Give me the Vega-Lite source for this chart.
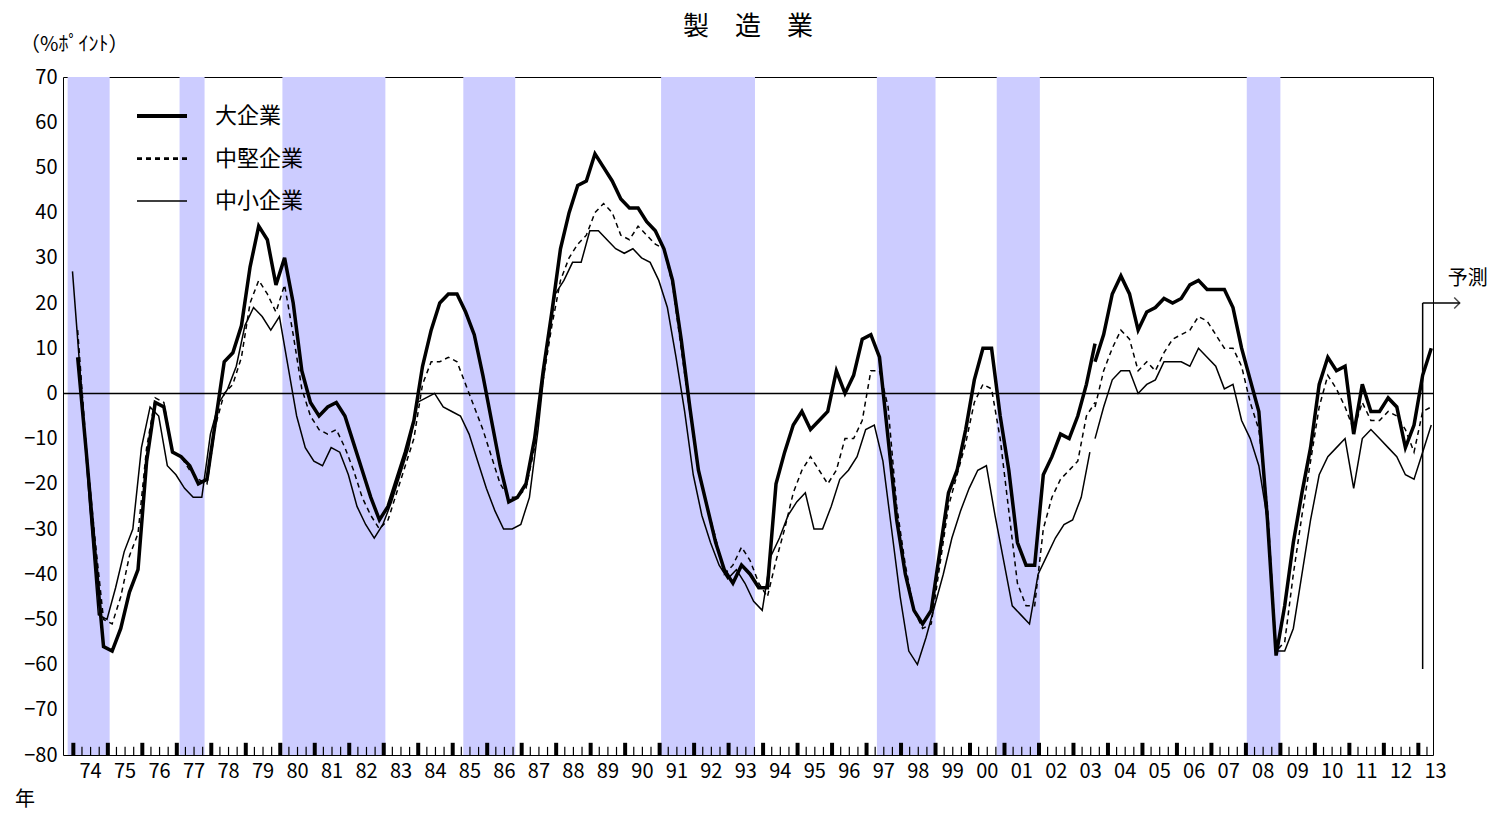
{
"$schema":"https://vega.github.io/schema/vega-lite/v6.json",
"width":1370,"height":678,
"autosize":{"type":"none"},
"padding":{"left":63,"top":77,"right":62,"bottom":60},
"config":{"font":"Noto Sans CJK JP","view":{"stroke":"black","strokeWidth":1},"axis":{"grid":false}},
"datasets":{
"bands":[{"a":-1.16,"b":3.71},{"a":11.82,"b":14.72},{"a":23.75,"b":35.69},{"a":44.73,"b":50.75},{"a":67.67,"b":78.56},{"a":92.7,"b":99.5},{"a":106.6,"b":111.6},{"a":135.6,"b":139.5}],
"big":[8,-13,-35,-56,-57,-52,-44,-39,-15,-2,-3,-13,-14,-16,-20,-19,-6,7,9,15,28,37,34,24,30,20,5,-2,-5,-3,-2,-5,-11,-17,-23,-28,-25,-19,-13,-6,6,14,20,22,22,18,13,4,-6,-16,-24,-23,-20,-10,5,18,32,40,46,47,53,50,47,43,41,41,38,36,32,25,12,-3,-17,-25,-33,-39,-42,-38,-40,-43,-43,-20,-13,-7,-4,-8,-6,-4,5,0,4,12,13,8,-10,-28,-40,-48,-51,-48,-35,-22,-17,-8,3,10,10,-5,-17,-33,-38,-38,-18,-14,-9,-10,-5,2,11],
"big2":[7,13,22,26,22,14,18,19,21,20,21,24,25,23,23,23,19,10,3,-4,-28,-58,-47,-33,-22,-12,2,8,5,6,-9,2,-4,-4,-1,-3,-12,-7,4,10],
"mid":[14,-12,-32,-50,-51,-45,-36,-31,-12,-1,-2,-13,-14,-17,-19,-20,-7,0,2,8,20,25,22,18,24,13,1,-5,-8,-9,-8,-12,-17,-23,-27,-30,-28,-22,-16,-10,2,7,7,8,7,2,-3,-8,-14,-20,-23,-23,-21,-12,3,15,25,30,33,35,40,42,40,35,34,37,35,33,32,24,10,-4,-17,-25,-32,-40,-38,-34,-37,-42,-45,-37,-30,-22,-17,-14,-17,-20,-17,-10,-10,-6,5,5,-3,-25,-38,-48,-52,-51,-38,-25,-18,-11,-2,2,1,-10,-26,-42,-47,-47,-30,-23,-19,-17,-15,-5,-2],
"mid2":[-3,5,10,14,12,5,7,5,9,12,13,14,17,16,13,10,10,6,-2,-8,-25,-57,-55,-40,-27,-15,-3,4,1,-3,-8,-2,-6,-6,-4,-5,-8,-13,-4,-3],
"sml":[27,2,-25,-49,-50,-43,-35,-30,-12,-3,-5,-16,-18,-21,-23,-23,-9,-2,1,6,15,19,17,14,17,6,-5,-12,-15,-16,-12,-13,-18,-25,-29,-32,-29,-24,-18,-12,-2,-1,0,-3,-4,-5,-9,-15,-21,-26,-30,-30,-29,-23,-8,10,22,25,29,29,36,36,34,32,31,32,30,29,25,19,8,-4,-18,-27,-33,-38,-41,-39,-42,-46,-48,-36,-32,-27,-24,-22,-30,-30,-25,-19,-17,-14,-8,-7,-15,-30,-45,-57,-60,-54,-47,-40,-32,-26,-21,-17,-16,-27,-37,-47,-49,-51,-40,-36,-32,-29,-28,-23,-13],
"sml2":[-10,-3,3,5,5,0,2,3,7,7,7,6,10,8,6,1,2,-6,-10,-16,-28,-57,-57,-52,-40,-28,-18,-14,-12,-10,-21,-10,-8,-10,-12,-14,-18,-19,-13,-7],
"maj":[-0.5,3.5,7.5,11.5,15.5,19.5,23.5,27.5,31.5,35.5,39.5,43.5,47.5,51.5,55.5,59.5,63.5,67.5,71.5,75.5,79.5,83.5,87.5,91.5,95.5,99.5,103.5,107.5,111.5,115.5,119.5,123.5,127.5,131.5,135.5,139.5,143.5,147.5,151.5,155.5],
"mnr":[0.5,1.5,2.5,4.5,5.5,6.5,8.5,9.5,10.5,12.5,13.5,14.5,16.5,17.5,18.5,20.5,21.5,22.5,24.5,25.5,26.5,28.5,29.5,30.5,32.5,33.5,34.5,36.5,37.5,38.5,40.5,41.5,42.5,44.5,45.5,46.5,48.5,49.5,50.5,52.5,53.5,54.5,56.5,57.5,58.5,60.5,61.5,62.5,64.5,65.5,66.5,68.5,69.5,70.5,72.5,73.5,74.5,76.5,77.5,78.5,80.5,81.5,82.5,84.5,85.5,86.5,88.5,89.5,90.5,92.5,93.5,94.5,96.5,97.5,98.5,100.5,101.5,102.5,104.5,105.5,106.5,108.5,109.5,110.5,112.5,113.5,114.5,116.5,117.5,118.5,120.5,121.5,122.5,124.5,125.5,126.5,128.5,129.5,130.5,132.5,133.5,134.5,136.5,137.5,138.5,140.5,141.5,142.5,144.5,145.5,146.5,148.5,149.5,150.5,152.5,153.5,154.5,156.5],
"yrs":[{"k":1.5,"t":"74"},{"k":5.5,"t":"75"},{"k":9.5,"t":"76"},{"k":13.5,"t":"77"},{"k":17.5,"t":"78"},{"k":21.5,"t":"79"},{"k":25.5,"t":"80"},{"k":29.5,"t":"81"},{"k":33.5,"t":"82"},{"k":37.5,"t":"83"},{"k":41.5,"t":"84"},{"k":45.5,"t":"85"},{"k":49.5,"t":"86"},{"k":53.5,"t":"87"},{"k":57.5,"t":"88"},{"k":61.5,"t":"89"},{"k":65.5,"t":"90"},{"k":69.5,"t":"91"},{"k":73.5,"t":"92"},{"k":77.5,"t":"93"},{"k":81.5,"t":"94"},{"k":85.5,"t":"95"},{"k":89.5,"t":"96"},{"k":93.5,"t":"97"},{"k":97.5,"t":"98"},{"k":101.5,"t":"99"},{"k":105.5,"t":"00"},{"k":109.5,"t":"01"},{"k":113.5,"t":"02"},{"k":117.5,"t":"03"},{"k":121.5,"t":"04"},{"k":125.5,"t":"05"},{"k":129.5,"t":"06"},{"k":133.5,"t":"07"},{"k":137.5,"t":"08"},{"k":141.5,"t":"09"},{"k":145.5,"t":"10"},{"k":149.5,"t":"11"},{"k":153.5,"t":"12"},{"k":157.5,"t":"13"}],
"fc":[{"k":156,"v1":-61,"v2":20,"k2":160.3,"t":"予測"}],
"notes":[{"k":-1.7,"v":70,"t":"（%ﾎﾟｲﾝﾄ）","w":-80,"t2":"年","c":77.75,"t3":"製　造　業"}]
},
"layer":[
{"data":{"name":"bands"},"mark":{"type":"rect","color":"#ccccff"},
 "encoding":{"x":{"field":"a","type":"quantitative","scale":{"domain":[-1.7,157.2],"nice":false,"zero":false},"axis":null},
  "x2":{"field":"b"},
  "y":{"datum":-80,"type":"quantitative","scale":{"domain":[-80,70],"nice":false},
   "axis":{"values":[-80,-70,-60,-50,-40,-30,-20,-10,0,10,20,30,40,50,60,70],"ticks":false,"domain":false,"labelFontSize":20,"labelColor":"black","labelPadding":6,"title":null}},
  "y2":{"datum":70}}},
{"data":{"name":"maj"},"mark":{"type":"rule","color":"black","strokeWidth":4},"encoding":{"x":{"field":"data","type":"quantitative","axis":null},"y":{"datum":-80,"type":"quantitative"},"y2":{"datum":-77.3}}},
{"data":{"name":"mnr"},"mark":{"type":"rule","color":"black","strokeWidth":1.2},"encoding":{"x":{"field":"data","type":"quantitative","axis":null},"y":{"datum":-80,"type":"quantitative"},"y2":{"datum":-78.2}}},
{"data":{"name":"yrs"},"mark":{"type":"text","fontSize":20,"baseline":"middle","dy":17},"encoding":{"x":{"field":"k","type":"quantitative","axis":null},"y":{"datum":-80,"type":"quantitative"},"text":{"field":"t"}}},
{"data":{"values":[{"z":0}]},"mark":{"type":"rule","color":"black","strokeWidth":1.5},"encoding":{"y":{"field":"z","type":"quantitative"}}},
{"data":{"name":"big"},"transform":[{"window":[{"op":"row_number","as":"n"}]},{"calculate":"datum.n-1","as":"k"}],
 "mark":{"type":"line","color":"black","strokeWidth":3.5},"encoding":{"x":{"field":"k","type":"quantitative","axis":null},"y":{"field":"data","type":"quantitative"}}},
{"data":{"name":"big2"},"transform":[{"window":[{"op":"row_number","as":"n"}]},{"calculate":"datum.n+117","as":"k"}],
 "mark":{"type":"line","color":"black","strokeWidth":3.5},"encoding":{"x":{"field":"k","type":"quantitative","axis":null},"y":{"field":"data","type":"quantitative"}}},
{"data":{"name":"mid"},"transform":[{"window":[{"op":"row_number","as":"n"}]},{"calculate":"datum.n-1","as":"k"}],
 "mark":{"type":"line","color":"black","strokeWidth":1.5,"strokeDash":[5,4]},"encoding":{"x":{"field":"k","type":"quantitative","axis":null},"y":{"field":"data","type":"quantitative"}}},
{"data":{"name":"mid2"},"transform":[{"window":[{"op":"row_number","as":"n"}]},{"calculate":"datum.n+117","as":"k"}],
 "mark":{"type":"line","color":"black","strokeWidth":1.5,"strokeDash":[5,4]},"encoding":{"x":{"field":"k","type":"quantitative","axis":null},"y":{"field":"data","type":"quantitative"}}},
{"data":{"name":"sml"},"transform":[{"window":[{"op":"row_number","as":"n"}]},{"calculate":"datum.n-1.6","as":"k"}],
 "mark":{"type":"line","color":"black","strokeWidth":1.5},"encoding":{"x":{"field":"k","type":"quantitative","axis":null},"y":{"field":"data","type":"quantitative"}}},
{"data":{"name":"sml2"},"transform":[{"window":[{"op":"row_number","as":"n"}]},{"calculate":"datum.n+117","as":"k"}],
 "mark":{"type":"line","color":"black","strokeWidth":1.5},"encoding":{"x":{"field":"k","type":"quantitative","axis":null},"y":{"field":"data","type":"quantitative"}}},
{"data":{"values":[{"s":"大企業","a":0},{"s":"大企業","a":1},{"s":"中堅企業","a":0},{"s":"中堅企業","a":1},{"s":"中小企業","a":0},{"s":"中小企業","a":1}]},
 "mark":{"type":"line","opacity":0},
 "encoding":{"x":{"field":"a","type":"quantitative","axis":null},"y":{"datum":0},"stroke":{"value":"black"},
  "strokeDash":{"field":"s","type":"nominal","scale":{"domain":["大企業","中堅企業","中小企業"],"range":[[1,0],[5,4],[1,0]]},
   "legend":{"orient":"none","legendX":72,"legendY":12,"title":null,"symbolType":"stroke","symbolSize":2500,"symbolStrokeColor":"black","symbolOpacity":1,"labelFontSize":22,"labelOffset":26,"rowPadding":5,"labelColor":"black"}},
  "strokeWidth":{"field":"s","type":"nominal","scale":{"domain":["大企業","中堅企業","中小企業"],"range":[4,1.5,1.2]}}}},
{"data":{"name":"fc"},"mark":{"type":"rule","color":"black","strokeWidth":1.5},"encoding":{"x":{"field":"k","type":"quantitative","axis":null},"y":{"field":"v1","type":"quantitative"},"y2":{"field":"v2"}}},
{"data":{"name":"fc"},"mark":{"type":"rule","color":"black","strokeWidth":1.5},"encoding":{"x":{"field":"k","type":"quantitative","axis":null},"x2":{"field":"k2"},"y":{"field":"v2","type":"quantitative"}}},
{"data":{"name":"fc"},"mark":{"type":"point","shape":"M-1,-1L0,0L-1,1","filled":false,"stroke":"black","strokeWidth":1.5,"size":120},"encoding":{"x":{"field":"k2","type":"quantitative","axis":null},"y":{"field":"v2","type":"quantitative"}}},
{"data":{"name":"fc"},"mark":{"type":"text","align":"left","fontSize":20,"baseline":"middle","dx":-12,"dy":-24},"encoding":{"x":{"field":"k2","type":"quantitative","axis":null},"y":{"field":"v2","type":"quantitative"},"text":{"field":"t"}}},
{"data":{"name":"notes"},"mark":{"type":"text","align":"left","fontSize":20,"baseline":"middle","dx":-43,"dy":-32},"encoding":{"x":{"field":"k","type":"quantitative","axis":null},"y":{"field":"v","type":"quantitative"},"text":{"field":"t"}}},
{"data":{"name":"notes"},"mark":{"type":"text","align":"center","fontSize":26,"baseline":"middle","dy":-50},"encoding":{"x":{"field":"c","type":"quantitative","axis":null},"y":{"field":"v","type":"quantitative"},"text":{"field":"t3"}}},
{"data":{"name":"notes"},"mark":{"type":"text","align":"left","fontSize":20,"baseline":"middle","dx":-48,"dy":45},"encoding":{"x":{"field":"k","type":"quantitative","axis":null},"y":{"field":"w","type":"quantitative"},"text":{"field":"t2"}}}
]
}
